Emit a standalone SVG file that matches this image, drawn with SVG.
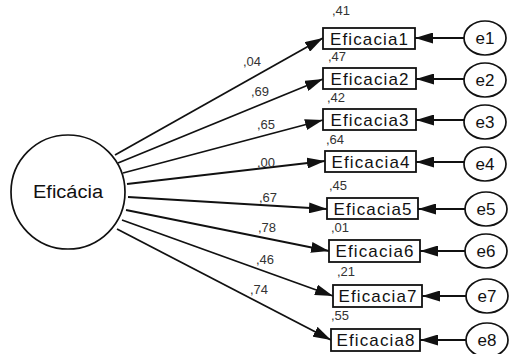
<svg xmlns="http://www.w3.org/2000/svg" width="510" height="354" viewBox="0 0 510 354">
<defs>
<style>
.ln{stroke:#111;stroke-width:1.8;fill:none}
.bx{fill:#fff;stroke:#111;stroke-width:1.8}
.el{fill:#fff;stroke:#111;stroke-width:1.7}
.t{font-family:"Liberation Sans",Arial,sans-serif;fill:#111}
.bt{font-size:17px;text-anchor:middle}
.et{font-size:17px;text-anchor:middle}
.n{font-family:"Liberation Sans",Arial,sans-serif;font-size:13px;fill:#333;text-anchor:middle}
</style>
<marker id="ah2" viewBox="0 0 18 11" refX="18" refY="5.5" markerWidth="18" markerHeight="11" markerUnits="userSpaceOnUse" orient="auto">
<path d="M0,0 L18,5.5 L0,11 z" fill="#111"/>
</marker>
</defs>
<rect width="510" height="354" fill="#fff"/>
<g id="connectors">
<line class="ln" x1="115" y1="155" x2="323" y2="38" marker-end="url(#ah2)"/>
<line class="ln" x1="118" y1="163" x2="323" y2="79" marker-end="url(#ah2)"/>
<line class="ln" x1="123" y1="173" x2="323" y2="120" marker-end="url(#ah2)"/>
<line class="ln" x1="127" y1="184" x2="325" y2="161" marker-end="url(#ah2)"/>
<line class="ln" x1="128" y1="197" x2="327" y2="209" marker-end="url(#ah2)"/>
<line class="ln" x1="126" y1="210" x2="329" y2="251" marker-end="url(#ah2)"/>
<line class="ln" x1="122" y1="220" x2="333" y2="296" marker-end="url(#ah2)"/>
<line class="ln" x1="117" y1="229" x2="331" y2="340" marker-end="url(#ah2)"/>
<line class="ln" x1="464" y1="38" x2="415" y2="38" marker-end="url(#ah2)"/>
<line class="ln" x1="464" y1="79" x2="416" y2="79" marker-end="url(#ah2)"/>
<line class="ln" x1="464" y1="120" x2="416" y2="120" marker-end="url(#ah2)"/>
<line class="ln" x1="464" y1="162" x2="416" y2="162" marker-end="url(#ah2)"/>
<line class="ln" x1="465" y1="209" x2="418" y2="209" marker-end="url(#ah2)"/>
<line class="ln" x1="465" y1="251" x2="420" y2="251" marker-end="url(#ah2)"/>
<line class="ln" x1="466" y1="296" x2="422" y2="296" marker-end="url(#ah2)"/>
<line class="ln" x1="466" y1="340" x2="420" y2="340" marker-end="url(#ah2)"/>
<text class="n" x="252" y="66">,04</text>
<text class="n" x="260" y="96">,69</text>
<text class="n" x="266" y="129">,65</text>
<text class="n" x="266" y="167">,00</text>
<text class="n" x="268" y="202">,67</text>
<text class="n" x="267" y="232">,78</text>
<text class="n" x="265" y="264">,46</text>
<text class="n" x="259" y="294">,74</text>
</g>
<g id="eficacia">
<circle class="el" cx="68" cy="192" r="57"/>
<text class="t" x="33" y="198" font-size="18" textLength="70" lengthAdjust="spacingAndGlyphs">Eficácia</text>
</g>
<g id="eficacia1">
<rect class="bx" x="323" y="28" width="92" height="21"/>
<text class="t bt" x="369" y="44.5" textLength="78" lengthAdjust="spacing">Eficacia1</text>
<text class="n" x="341" y="15">,41</text>
</g>
<g id="eficacia2">
<rect class="bx" x="323" y="68" width="93" height="21"/>
<text class="t bt" x="369.5" y="84.5" textLength="78" lengthAdjust="spacing">Eficacia2</text>
<text class="n" x="337" y="61">,47</text>
</g>
<g id="eficacia3">
<rect class="bx" x="323" y="109" width="93" height="21"/>
<text class="t bt" x="369.5" y="125.5" textLength="78" lengthAdjust="spacing">Eficacia3</text>
<text class="n" x="336" y="102">,42</text>
</g>
<g id="eficacia4">
<rect class="bx" x="325" y="151" width="91" height="21"/>
<text class="t bt" x="370.5" y="167.5" textLength="78" lengthAdjust="spacing">Eficacia4</text>
<text class="n" x="335" y="144">,64</text>
</g>
<g id="eficacia5">
<rect class="bx" x="327" y="198" width="91" height="21"/>
<text class="t bt" x="372.5" y="214.5" textLength="78" lengthAdjust="spacing">Eficacia5</text>
<text class="n" x="338" y="190">,45</text>
</g>
<g id="eficacia6">
<rect class="bx" x="329" y="240" width="91" height="22"/>
<text class="t bt" x="374.5" y="257" textLength="78" lengthAdjust="spacing">Eficacia6</text>
<text class="n" x="340" y="232">,01</text>
</g>
<g id="eficacia7">
<rect class="bx" x="333" y="285" width="89" height="22"/>
<text class="t bt" x="377.5" y="302" textLength="78" lengthAdjust="spacing">Eficacia7</text>
<text class="n" x="346" y="276">,21</text>
</g>
<g id="eficacia8">
<rect class="bx" x="331" y="329" width="89" height="22"/>
<text class="t bt" x="375.5" y="346" textLength="78" lengthAdjust="spacing">Eficacia8</text>
<text class="n" x="340" y="320">,55</text>
</g>
<g id="e1"><ellipse class="el" cx="485" cy="38" rx="21" ry="17"/><text class="t et" x="485" y="44">e1</text></g>
<g id="e2"><ellipse class="el" cx="485" cy="80" rx="21" ry="17"/><text class="t et" x="485" y="86">e2</text></g>
<g id="e3"><ellipse class="el" cx="485" cy="122" rx="21" ry="17"/><text class="t et" x="485" y="128">e3</text></g>
<g id="e4"><ellipse class="el" cx="485" cy="164" rx="21" ry="17"/><text class="t et" x="485" y="170">e4</text></g>
<g id="e5"><ellipse class="el" cx="486" cy="209" rx="21" ry="17"/><text class="t et" x="486" y="215">e5</text></g>
<g id="e6"><ellipse class="el" cx="486" cy="251" rx="21" ry="17"/><text class="t et" x="486" y="257">e6</text></g>
<g id="e7"><ellipse class="el" cx="487" cy="296" rx="21" ry="17"/><text class="t et" x="487" y="302">e7</text></g>
<g id="e8"><ellipse class="el" cx="487" cy="340" rx="21" ry="17"/><text class="t et" x="487" y="346">e8</text></g>
</svg>
